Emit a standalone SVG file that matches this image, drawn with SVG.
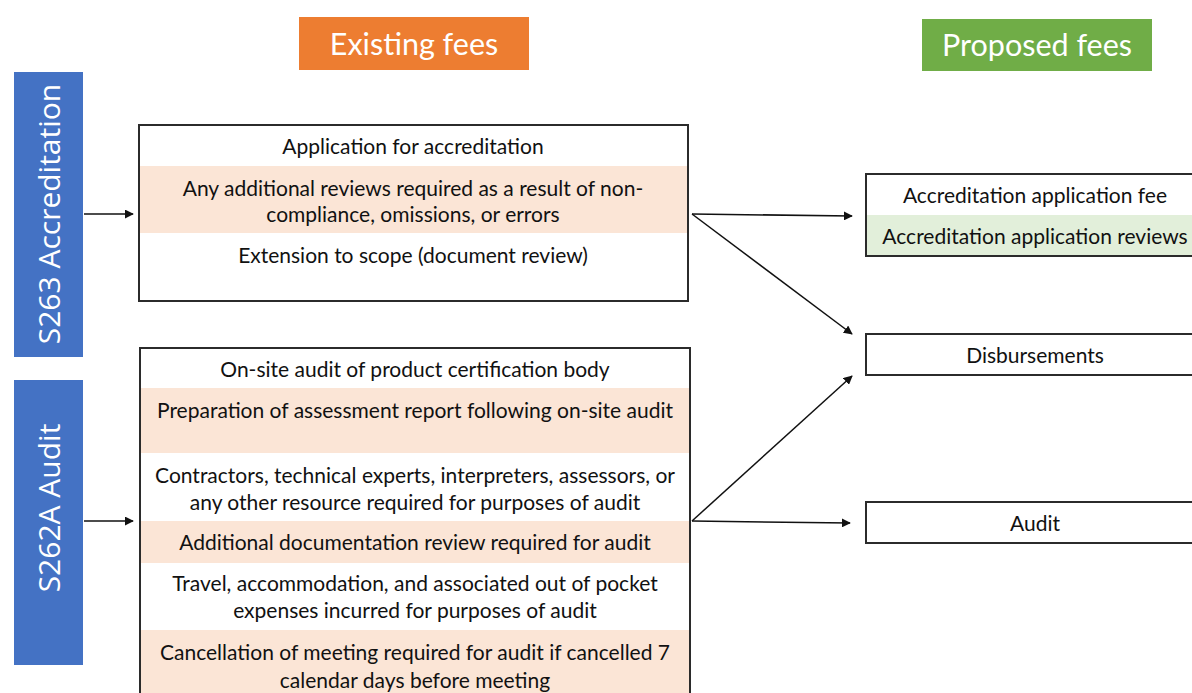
<svg xmlns="http://www.w3.org/2000/svg" width="1192" height="693" viewBox="0 0 1192 693">
  <style>
    .t { font-family: Lato, "Open Sans", sans-serif; font-size: 21px; fill: #111; text-anchor: middle; dominant-baseline: central; }
    .hd { font-family: Lato, "Open Sans", sans-serif; font-size: 30.5px; fill: #fff; text-anchor: middle; dominant-baseline: central; }
    .side { font-family: "Open Sans", sans-serif; font-size: 30px; fill: #fff; text-anchor: middle; dominant-baseline: central; }
    .box { fill: none; stroke: #2b2b2b; stroke-width: 2; }
    .peach { fill: #FBE5D6; }
    .mint { fill: #E2EFDA; }
    .conn { stroke: #111; stroke-width: 1.5; fill: none; marker-end: url(#arrow); }
  </style>
  <defs>
    <marker id="arrow" viewBox="0 0 10 10" refX="9" refY="5" markerWidth="9" markerHeight="9" markerUnits="userSpaceOnUse" orient="auto">
      <path d="M0,0 L10,5 L0,10 z" fill="#111"/>
    </marker>
  </defs>
  <rect width="1192" height="693" fill="#fff"/>

  <!-- column headings -->
  <g id="existing-fees">
    <rect x="299" y="17" width="230" height="53" fill="#ED7D31"/>
    <text class="hd" x="414" y="43">Existing fees</text>
  </g>
  <g id="proposed-fees">
    <rect x="922" y="19" width="230" height="52" fill="#70AD47"/>
    <text class="hd" x="1037" y="44">Proposed fees</text>
  </g>

  <!-- section labels -->
  <g id="s263">
    <rect x="14" y="72" width="69" height="285" fill="#4472C4"/>
    <text class="side" transform="translate(48.5,214) rotate(-90)">S263 Accreditation</text>
  </g>
  <g id="s262a">
    <rect x="14" y="380" width="69" height="285" fill="#4472C4"/>
    <text class="side" transform="translate(48.5,508) rotate(-90)" font-size="28">S262A Audit</text>
  </g>

  <!-- existing accreditation fees -->
  <g id="accreditation-fees">
    <rect x="139" y="125" width="549" height="176" fill="#fff"/>
    <rect class="peach" x="139" y="166" width="549" height="67"/>
    <text class="t" x="413" y="145">Application for accreditation</text>
    <text class="t" x="413" y="187">Any additional reviews required as a result of non-</text>
    <text class="t" x="413" y="213">compliance, omissions, or errors</text>
    <text class="t" x="413" y="254">Extension to scope (document review)</text>
    <rect class="box" x="139" y="125" width="549" height="176"/>
  </g>

  <!-- existing audit fees -->
  <g id="audit-fees">
    <rect x="140" y="348" width="550" height="350" fill="#fff"/>
    <rect class="peach" x="140" y="388" width="550" height="65"/>
    <rect class="peach" x="140" y="521" width="550" height="42"/>
    <rect class="peach" x="140" y="630" width="550" height="68"/>
    <text class="t" x="415" y="368">On-site audit of product certification body</text>
    <text class="t" x="415" y="409">Preparation of assessment report following on-site audit</text>
    <text class="t" x="415" y="474">Contractors, technical experts, interpreters, assessors, or</text>
    <text class="t" x="415" y="501">any other resource required for purposes of audit</text>
    <text class="t" x="415" y="541">Additional documentation review required for audit</text>
    <text class="t" x="415" y="582">Travel, accommodation, and associated out of pocket</text>
    <text class="t" x="415" y="609">expenses incurred for purposes of audit</text>
    <text class="t" x="415" y="651">Cancellation of meeting required for audit if cancelled 7</text>
    <text class="t" x="415" y="679">calendar days before meeting</text>
    <rect class="box" x="140" y="348" width="550" height="360"/>
  </g>

  <!-- proposed fees -->
  <g id="accreditation-application">
    <rect x="866" y="174" width="340" height="82" fill="#fff"/>
    <rect class="mint" x="866" y="215" width="340" height="41"/>
    <text class="t" x="1035" y="194">Accreditation application fee</text>
    <text class="t" x="1035" y="235">Accreditation application reviews</text>
    <rect class="box" x="866" y="174" width="340" height="82"/>
  </g>
  <g id="disbursements">
    <rect class="box" x="866" y="334" width="340" height="41" fill="#fff"/>
    <text class="t" x="1035" y="354">Disbursements</text>
  </g>
  <g id="audit">
    <rect class="box" x="866" y="502" width="340" height="41" fill="#fff"/>
    <text class="t" x="1035" y="522">Audit</text>
  </g>

  <!-- connectors -->
  <g id="connectors">
    <line class="conn" x1="84" y1="214" x2="133" y2="214"/>
    <line class="conn" x1="84" y1="521" x2="133" y2="521"/>
    <line class="conn" x1="692" y1="214" x2="852" y2="216"/>
    <line class="conn" x1="692" y1="214" x2="852" y2="334"/>
    <line class="conn" x1="692" y1="521" x2="852" y2="376"/>
    <line class="conn" x1="692" y1="521" x2="850" y2="523"/>
  </g>
</svg>
